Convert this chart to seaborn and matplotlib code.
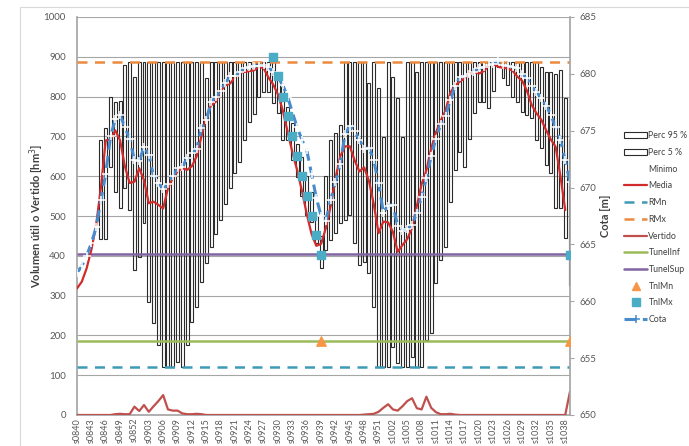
import numpy as np
import seaborn as sns
import matplotlib.pyplot as plt
from matplotlib.patches import Patch, Rectangle
from matplotlib.lines import Line2D

# weekly categories s0840 ... s1039
weeks = ([f"s08{w:02d}" for w in range(40, 53)]
         + [f"s09{w:02d}" for w in range(1, 53)]
         + [f"s10{w:02d}" for w in range(1, 40)])

nan = np.nan

# percentile boxes (volume, hm3)
perc95 = [nan, nan, nan, nan, nan, 690, 720, 800, 787, 790,
          879, 888, 850, 888, 888, 888, 888, 888, 888, 888,
          888, 888, 888, 888, 888, 888, 888, 846, 888, 888,
          888, 888, 888, 888, 888, 888, 888, 888, 888, 888,
          888, 888, 850, 825, 775, 733, 680, 649, 600, 560,
          500, 450, 600, 690, 708, 729, 888, 888, 888, 888,
          888, 833, 888, 821, 699, 888, 850, 796, 699, 888,
          888, 863, 888, 888, 888, 888, 888, 888, 888, 888,
          888, 888, 888, 888, 888, 888, 888, 888, 888, 888,
          888, 888, 888, 888, 888, 888, 888, 875, 863, 863,
          858, 867, 796, 691]
perc5 = [nan, nan, nan, nan, nan, 441, 441, 624, 561, 519,
         570, 515, 364, 398, 482, 285, 230, 176, 121, 121,
         121, 132, 121, 176, 234, 272, 335, 381, 423, 456,
         490, 530, 570, 607, 636, 691, 737, 756, 800, 812,
         812, 783, 758, 691, 691, 641, 599, 549, 503, 486,
         431, 369, 414, 440, 457, 482, 490, 503, 431, 377,
         385, 356, 272, 121, 121, 121, 172, 130, 121, 121,
         146, 121, 121, 188, 205, 331, 389, 423, 536, 616,
         662, 624, 693, 758, 787, 787, 771, 815, 875, 846,
         829, 800, 787, 762, 754, 745, 691, 670, 628, 607,
         519, 519, 444, 327]

media = [318, 335, 368, 415, 478, 572, 690, 692, 715, 690,
         625, 583, 586, 620, 590, 532, 536, 528, 519, 570,
         595, 612, 620, 616, 625, 650, 700, 748, 778, 787,
         815, 828, 833, 848, 860, 862, 864, 866, 875, 871,
         848, 830, 805, 765, 712, 660, 615, 563, 505, 455,
         425, 430, 470, 525, 595, 650, 675, 675, 640, 612,
         622, 588, 530, 457, 486, 484, 460, 410, 427, 442,
         470, 525, 580, 615, 670, 710, 740, 765, 810, 828,
         838, 846, 858, 862, 858, 864, 878, 882, 875, 872,
         871, 865, 850, 840, 815, 779, 758, 742, 716, 692,
         674, 600, 515]

vertido = [0, 0, 0, 0, 0, 0, 0, 0, 2, 3,
           2, 2, 21, 10, 25, 8, 22, 35, 50, 14,
           11, 11, 4, 2, 2, 3, 2, 0, 0, 0,
           0, 0, 0, 0, 0, 0, 0, 0, 0, 0,
           0, 0, 0, 0, 0, 0, 0, 0, 0, 0,
           0, 0, 0, 0, 0, 0, 0, 0, 0, 0,
           1, 2, 3, 8, 18, 27, 14, 11, 22, 35,
           42, 17, 14, 46, 18, 7, 2, 2, 3, 1,
           0, 0, 0, 0, 0, 0, 0, 0, 0, 0,
           0, 0, 0, 0, 0, 0, 0, 0, 0, 0,
           0, 0, 0, 59]

# cota (m)
cota = [662.5, 663.1, 664.0, 665.1, 666.5, 668.9, 671.2, 674.5, 676.0, 676.4,
        675.3, 674.3, 672.4, 672.3, 673.6, 672.9, 671.0, 670.4, 669.9, 670.3,
        671.0, 671.7, 671.8, 672.6, 673.0, 673.4, 675.2, 675.9, 677.5, 678.0,
        678.5, 679.2, 679.8, 679.8, 680.2, 680.5, 680.6, 680.7, 680.7, 680.8,
        680.6, 680.2, 679.7, 679.0, 678.0, 676.6, 675.3, 674.2, 673.3, 671.2,
        669.1, 667.5, 667.1, 668.9, 670.5, 672.1, 674.7, 675.4, 675.0, 674.2,
        673.4, 673.5, 672.4, 670.4, 667.8, 668.4, 668.5, 666.6, 666.2, 666.4,
        666.7, 667.8, 669.2, 670.8, 672.8, 674.3, 675.6, 676.3, 677.7, 678.9,
        679.7, 679.8, 680.0, 680.2, 680.5, 680.6, 680.8, 680.9, 681.1, 680.8,
        680.7, 680.6, 680.5, 680.0, 679.6, 678.9, 678.4, 677.9, 677.2, 676.4,
        675.3, 674.2, 672.4, 670.5]

# tunnel marks (cota, m)
tnlmx_weeks = [41, 42, 43, 44, 45, 46, 47, 48, 49, 50, 51, 103]
tnlmx = [681.5, 679.8, 678.0, 676.3, 674.5, 672.8, 671.0, 669.3, 667.5, 665.8, 664.1, 664.1]
tnlmn_weeks = [51, 103]
tnlmn = [656.5, 656.5]

# reference levels (volume, hm3)
RMX = 888
RMN = 121
TUNEL_INF = 186
TUNEL_SUP = 404

sns.set_theme(style="white")
plt.rcParams['font.family'] = ['Lato', 'DejaVu Sans']

c_media = '#D22B2B'
c_vert = '#C0504D'
c_rmn = '#3E9BB6'
c_rmx = '#EB8A3E'
c_tinf = '#9BBB59'
c_tsup = '#8064A2'
c_tnlmn = '#F79646'
c_tnlmx = '#4BACC6'
c_cota = '#4A8CCB'
c_grid = '#a6a6a6'
c_text = '#595959'

fig = plt.figure(figsize=(6.89, 4.46), dpi=100)
ax = fig.add_axes([77 / 689, 31 / 446, 493 / 689, 398 / 446])
ax2 = ax.twinx()

idx = np.arange(len(weeks))
p95 = np.array(perc95, dtype=float)
p5 = np.array(perc5, dtype=float)
ax.bar(idx, np.abs(p95 - p5), bottom=np.minimum(p95, p5), width=0.62,
       fill=False, edgecolor='#2b2b2b', linewidth=0.8, zorder=2)

last = len(weeks) - 1
ax.hlines(RMN, 0, last, colors=c_rmn, linestyles=(0, (4, 3)), lw=1.8, zorder=3)
ax.hlines(RMX, 0, last, colors=c_rmx, linestyles=(0, (4, 3)), lw=1.8, zorder=3)
ax.hlines(TUNEL_INF, 0, last, colors=c_tinf, lw=1.8, zorder=3)
ax.hlines(TUNEL_SUP, 0, last, colors=c_tsup, lw=1.8, zorder=3)

sns.lineplot(x=idx[:len(media)], y=media, ax=ax, color=c_media, lw=1.6,
             errorbar=None, zorder=4)
sns.lineplot(x=idx, y=vertido, ax=ax, color=c_vert, lw=1.6,
             errorbar=None, zorder=4)

sns.lineplot(x=idx, y=cota, ax=ax2, color=c_cota, lw=2.2, ls=(0, (4, 2)),
             marker='+', markersize=6, markeredgewidth=1.1, errorbar=None)
ax2.scatter(tnlmn_weeks, tnlmn, marker='^', s=45, color=c_tnlmn, zorder=5)
ax2.scatter(tnlmx_weeks, tnlmx, marker='s', s=40, color=c_tnlmx, zorder=5)

ax.set_xlim(0, last)
ax.set_ylim(0, 1000)
ax2.set_ylim(650, 685)
ax.set_yticks(range(0, 1001, 100))
ax2.set_yticks(range(650, 686, 5))
ax.set_xticks(idx[::3])
ax.set_xticklabels(weeks[::3], rotation=90, fontsize=6.5, color=c_text)

ax.yaxis.grid(True, color=c_grid, lw=0.8)
ax.xaxis.grid(False)
ax.tick_params(axis='y', length=0, pad=8, labelsize=7, labelcolor=c_text)
ax.tick_params(axis='x', length=0, pad=2)
ax2.tick_params(axis='y', length=3, width=0.8, color=c_grid, pad=4,
                labelsize=7, labelcolor=c_text, direction='out')

for s in ['top', 'right']:
    ax.spines[s].set_visible(False)
for s in ['top', 'left', 'bottom']:
    ax2.spines[s].set_visible(False)
for s in ['left', 'bottom']:
    ax.spines[s].set_color(c_grid)
ax2.spines['right'].set_color(c_grid)

ax.set_xlabel('')
ax.set_ylabel('Volumen útil o Vertido [hm$^3$]', fontsize=8, color='#404040',
              fontweight='bold')
ax.yaxis.set_label_coords(-0.062, 0.5)
ax2.set_ylabel('Cota [m]', fontsize=8, color='#404040', fontweight='bold')
ax2.yaxis.set_label_coords(1.06, 0.5)

handles = [
    Patch(facecolor='white', edgecolor='#2b2b2b', lw=0.8),
    Patch(facecolor='white', edgecolor='#2b2b2b', lw=0.8),
    Line2D([], [], color='none'),
    Line2D([], [], color=c_media, lw=1.6),
    Line2D([], [], color=c_rmn, lw=1.8, ls=(0, (4, 3))),
    Line2D([], [], color=c_rmx, lw=1.8, ls=(0, (4, 3))),
    Line2D([], [], color=c_vert, lw=1.6),
    Line2D([], [], color=c_tinf, lw=1.8),
    Line2D([], [], color=c_tsup, lw=1.8),
    Line2D([], [], color=c_tnlmn, ls='none', marker='^', markersize=6),
    Line2D([], [], color=c_tnlmx, ls='none', marker='s', markersize=6),
    Line2D([], [], color=c_cota, lw=2.2, ls=(0, (4, 2)), marker='+',
           markersize=6, markeredgewidth=1.1),
]
labels = ['Perc 95 %', 'Perc 5 %', 'Mínimo', 'Media', 'RMn', 'RMx', 'Vertido',
          'TunelInf', 'TunelSup', 'TnlMn', 'TnlMx', 'Cota']
leg = fig.legend(handles, labels, loc='upper left',
                 bbox_to_anchor=(620 / 689, 1 - 127 / 446), frameon=False,
                 fontsize=6.3, labelspacing=0.88, handlelength=2.6,
                 handletextpad=0.15, borderpad=0)
for t in leg.get_texts():
    t.set_color('#404040')

fig.patches.append(Rectangle((20 / 689, -0.05), 1, (446 - 7) / 446 + 0.05,
                             transform=fig.transFigure, fill=False,
                             edgecolor='#d9d9d9', lw=0.8))

fig.savefig('out.png', dpi=100)
